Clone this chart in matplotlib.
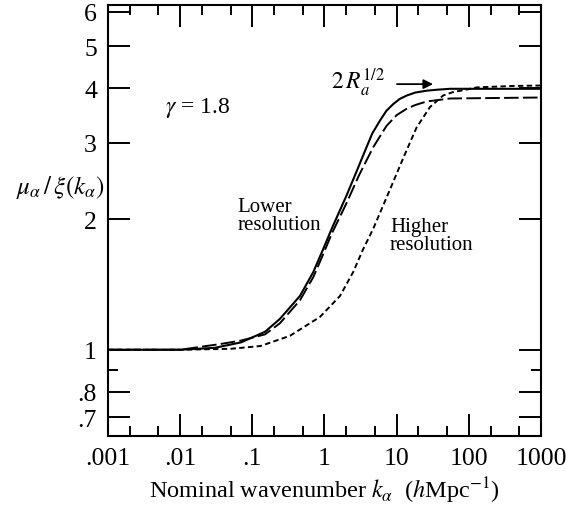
import matplotlib
matplotlib.use("Agg")
import matplotlib.pyplot as plt
from matplotlib.ticker import FixedLocator, NullFormatter

plt.rcParams["font.family"] = ["Liberation Serif", "DejaVu Serif"]
plt.rcParams["mathtext.fontset"] = "stix"

# curves (k in h/Mpc, mu/xi)
k_low = [0.001, 0.01, 0.03, 0.07, 0.15, 0.24, 0.457, 0.70, 0.96, 1.26, 2.03, 2.8, 3.64, 4.6, 5.87,
         7.2, 8.97, 11, 13.8, 18, 26, 36, 55, 1000]
mu_low = [1.0, 1.0, 1.01, 1.04, 1.10, 1.177, 1.33, 1.51, 1.706, 1.90, 2.27, 2.58, 2.87, 3.15, 3.37,
          3.55, 3.68, 3.78, 3.85, 3.91, 3.95, 3.97, 3.99, 3.99]

k_low2 = [0.001, 0.01, 0.035, 0.07, 0.15, 0.24, 0.457, 0.70, 0.96, 1.26, 2.03, 3.0, 4.75, 7.26,
          10, 13.8, 18, 26, 55, 1000]
mu_low2 = [1.0, 1.0, 1.03, 1.05, 1.085, 1.15, 1.30, 1.47, 1.66, 1.85, 2.18, 2.52, 2.93, 3.28,
           3.47, 3.59, 3.66, 3.73, 3.79, 3.81]

k_high = [0.001, 0.01, 0.05, 0.13, 0.333, 0.865, 1.64, 2.5, 3.44, 4.74, 8, 13, 18.9, 28.9, 44,
          60, 84, 129, 400, 1000]
mu_high = [1.0, 1.0, 1.005, 1.02, 1.077, 1.19, 1.33, 1.51, 1.706, 1.90, 2.33, 2.82, 3.25, 3.62, 3.85,
           3.92, 3.96, 4.02, 4.05, 4.06]

x_ticks = [0.001, 0.01, 0.1, 1, 10, 100, 1000]
x_labels = [".001", ".01", ".1", "1", "10", "100", "1000"]
y_ticks = [0.7, 0.8, 1, 2, 3, 4, 5, 6]
y_labels = [".7", ".8", "1", "2", "3", "4", "5", "6"]

fig = plt.figure(figsize=(5.66, 5.06), dpi=100)
ax = fig.add_axes([0.1908, 0.1364, 0.765, 0.8516])

ax.plot(k_low, mu_low, color="black", lw=1.5, solid_capstyle="butt", solid_joinstyle="round")
ax.plot(k_low2, mu_low2, color="black", lw=1.4, dashes=(7.5, 2.2))
ax.plot(k_high, mu_high, color="black", lw=1.4, dashes=(2.8, 1.7))

ax.set_xscale("log")
ax.set_yscale("log")
ax.set_xlim(0.001, 1000)
ax.set_ylim(0.633, 6.22)

ax.xaxis.set_major_locator(FixedLocator(x_ticks))
ax.set_xticklabels(x_labels)
minor_x = [m * d for d in [0.001, 0.01, 0.1, 1, 10, 100] for m in (2, 5)]
ax.xaxis.set_minor_locator(FixedLocator(minor_x))
ax.xaxis.set_minor_formatter(NullFormatter())
ax.yaxis.set_major_locator(FixedLocator(y_ticks))
ax.set_yticklabels(y_labels)
ax.yaxis.set_minor_locator(FixedLocator([0.9]))
ax.yaxis.set_minor_formatter(NullFormatter())

ax.tick_params(which="both", direction="in", top=True, right=True, width=1.4, labelsize=18.5)
ax.tick_params(which="major", length=15.5, pad=8)
ax.tick_params(which="minor", length=7.5)
for s in ax.spines.values():
    s.set_linewidth(1.5)

ax.set_xlabel(r"Nominal wavenumber $k_\alpha$  ($h$Mpc$^{-1}$)", fontsize=17.5, labelpad=4)
ax.set_ylabel(r"$\mu_\alpha\,/\,\xi(k_\alpha)$", fontsize=18, rotation=0, ha="center", va="center")
ax.yaxis.set_label_coords(-0.111, 0.58)

ax.text(0.0061, 3.62, r"$\gamma$ = 1.8", fontsize=17, va="center", ha="left")
ax.text(0.063, 2.04, "Lower\nresolution", fontsize=15, va="center", ha="left", linespacing=0.95)
ax.text(8.07, 1.83, "Higher\nresolution", fontsize=15, va="center", ha="left", linespacing=0.95)
ax.text(6.9, 4.13, r"$2\,R_a^{1/2}$", fontsize=17, va="center", ha="right")
ax.annotate("", xy=(32, 4.09), xytext=(10.1, 4.09),
            arrowprops=dict(arrowstyle="-|>", color="black", lw=1.3, mutation_scale=14,
                            shrinkA=0, shrinkB=0))

fig.savefig("out.png", dpi=100)
